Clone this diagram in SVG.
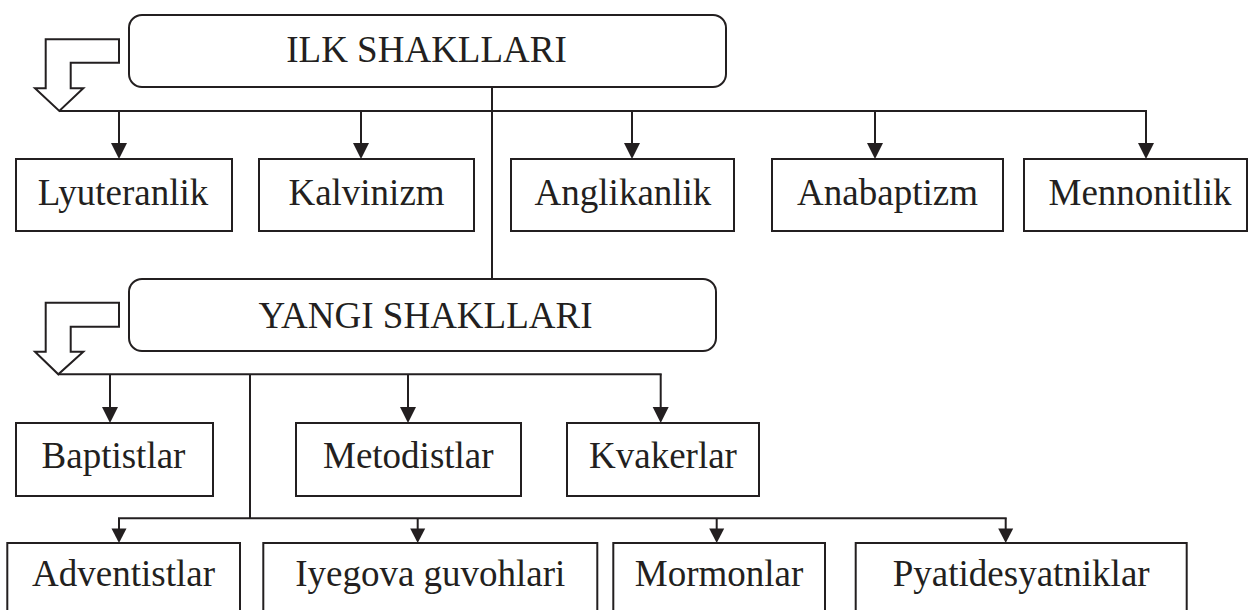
<svg xmlns="http://www.w3.org/2000/svg" width="1249" height="610" viewBox="0 0 1249 610">
<defs>
<marker id="ah" viewBox="0 0 16 16" refX="8" refY="16" markerWidth="16" markerHeight="16" markerUnits="userSpaceOnUse" orient="auto-start-reverse">
<path d="M0,0 L16,0 L8,16 Z" fill="#231f20"/>
</marker>
</defs>
<style>
.box{fill:#fff;stroke:#231f20;stroke-width:2}
.hollow{fill:#fff;stroke:#231f20;stroke-width:2;stroke-linejoin:miter}
.ln{fill:none;stroke:#231f20;stroke-width:2}
.t{font-family:"Liberation Serif","Times New Roman",serif;font-size:37px;fill:#231f20;text-anchor:middle}
</style>
<rect width="1249" height="610" fill="#fff"/>
<g id="connectors">
<line class="ln" x1="492" y1="87" x2="492" y2="279"/>
<line class="ln" x1="59" y1="111" x2="1147" y2="111"/>
<line class="ln" x1="119" y1="111" x2="119" y2="143" />
<path d="M111,143 L127,143 L119,159 Z" fill="#231f20"/>
<line class="ln" x1="361" y1="111" x2="361" y2="143"/>
<path d="M353,143 L369,143 L361,159 Z" fill="#231f20"/>
<line class="ln" x1="632" y1="111" x2="632" y2="143"/>
<path d="M624,143 L640,143 L632,159 Z" fill="#231f20"/>
<line class="ln" x1="875" y1="111" x2="875" y2="143"/>
<path d="M867,143 L883,143 L875,159 Z" fill="#231f20"/>
<line class="ln" x1="1146" y1="111" x2="1146" y2="143"/>
<path d="M1138,143 L1154,143 L1146,159 Z" fill="#231f20"/>
<polygon class="hollow" points="45.7,39.3 119,39.3 119,62.7 70.7,62.7 70.7,88.3 83.3,88.3 59.3,111 35,88.3 45.7,88.3"/>
<line class="ln" x1="58" y1="374.3" x2="661.7" y2="374.3"/>
<line class="ln" x1="110" y1="374.3" x2="110" y2="407"/>
<path d="M102,407 L118,407 L110,423 Z" fill="#231f20"/>
<line class="ln" x1="408" y1="374.3" x2="408" y2="407"/>
<path d="M400,407 L416,407 L408,423 Z" fill="#231f20"/>
<line class="ln" x1="660.7" y1="374.3" x2="660.7" y2="407"/>
<path d="M652.7,407 L668.7,407 L660.7,423 Z" fill="#231f20"/>
<polygon class="hollow" points="45.7,302.7 119,302.7 119,326.7 70.7,326.7 70.7,351.7 83.3,351.7 58.3,374.3 35,351.7 45.7,351.7"/>
<line class="ln" x1="250" y1="374.3" x2="250" y2="518.3"/>
<line class="ln" x1="118" y1="518.3" x2="1006.7" y2="518.3"/>
<line class="ln" x1="119" y1="518.3" x2="119" y2="529"/>
<path d="M111.5,528.5 L126.5,528.5 L119,543 Z" fill="#231f20"/>
<line class="ln" x1="417.7" y1="518.3" x2="417.7" y2="529"/>
<path d="M410.2,528.5 L425.2,528.5 L417.7,543 Z" fill="#231f20"/>
<line class="ln" x1="716.7" y1="518.3" x2="716.7" y2="529"/>
<path d="M709.2,528.5 L724.2,528.5 L716.7,543 Z" fill="#231f20"/>
<line class="ln" x1="1005.7" y1="518.3" x2="1005.7" y2="529"/>
<path d="M998.2,528.5 L1013.2,528.5 L1005.7,543 Z" fill="#231f20"/>
</g>
<g id="ilk">
<rect class="box" x="129" y="15" width="597" height="72" rx="13"/>
<text class="t" x="426.5" y="62">ILK SHAKLLARI</text>
</g>
<g id="lyuteranlik">
<rect class="box" x="16" y="159" width="216" height="72"/>
<text class="t" x="123" y="205">Lyuteranlik</text>
</g>
<g id="kalvinizm">
<rect class="box" x="259" y="159" width="215" height="72"/>
<text class="t" x="366.5" y="205">Kalvinizm</text>
</g>
<g id="anglikanlik">
<rect class="box" x="511" y="159" width="223" height="72"/>
<text class="t" x="623" y="205">Anglikanlik</text>
</g>
<g id="anabaptizm">
<rect class="box" x="772" y="159" width="231" height="72"/>
<text class="t" x="887.5" y="205">Anabaptizm</text>
</g>
<g id="mennonitlik">
<rect class="box" x="1024" y="159" width="223" height="72"/>
<text class="t" x="1140" y="205">Mennonitlik</text>
</g>
<g id="yangi">
<rect class="box" x="129" y="279" width="587" height="72" rx="13"/>
<text class="t" x="425.5" y="327.7">YANGI SHAKLLARI</text>
</g>
<g id="baptistlar">
<rect class="box" x="16" y="423" width="197" height="73"/>
<text class="t" x="113.5" y="468.3">Baptistlar</text>
</g>
<g id="metodistlar">
<rect class="box" x="296" y="423" width="225" height="73"/>
<text class="t" x="408.3" y="468.3">Metodistlar</text>
</g>
<g id="kvakerlar">
<rect class="box" x="567" y="423" width="192" height="73"/>
<text class="t" x="663" y="468.3">Kvakerlar</text>
</g>
<g id="adventistlar">
<rect class="box" x="7.3" y="543" width="232.7" height="80"/>
<text class="t" x="123.5" y="585.7">Adventistlar</text>
</g>
<g id="iyegova">
<rect class="box" x="263.3" y="543" width="334" height="80"/>
<text class="t" x="430.3" y="585.7">Iyegova guvohlari</text>
</g>
<g id="mormonlar">
<rect class="box" x="613.3" y="543" width="211.7" height="80"/>
<text class="t" x="719" y="585.7">Mormonlar</text>
</g>
<g id="pyatidesyatniklar">
<rect class="box" x="855.7" y="543" width="331" height="80"/>
<text class="t" x="1021.2" y="585.7">Pyatidesyatniklar</text>
</g>
</svg>
